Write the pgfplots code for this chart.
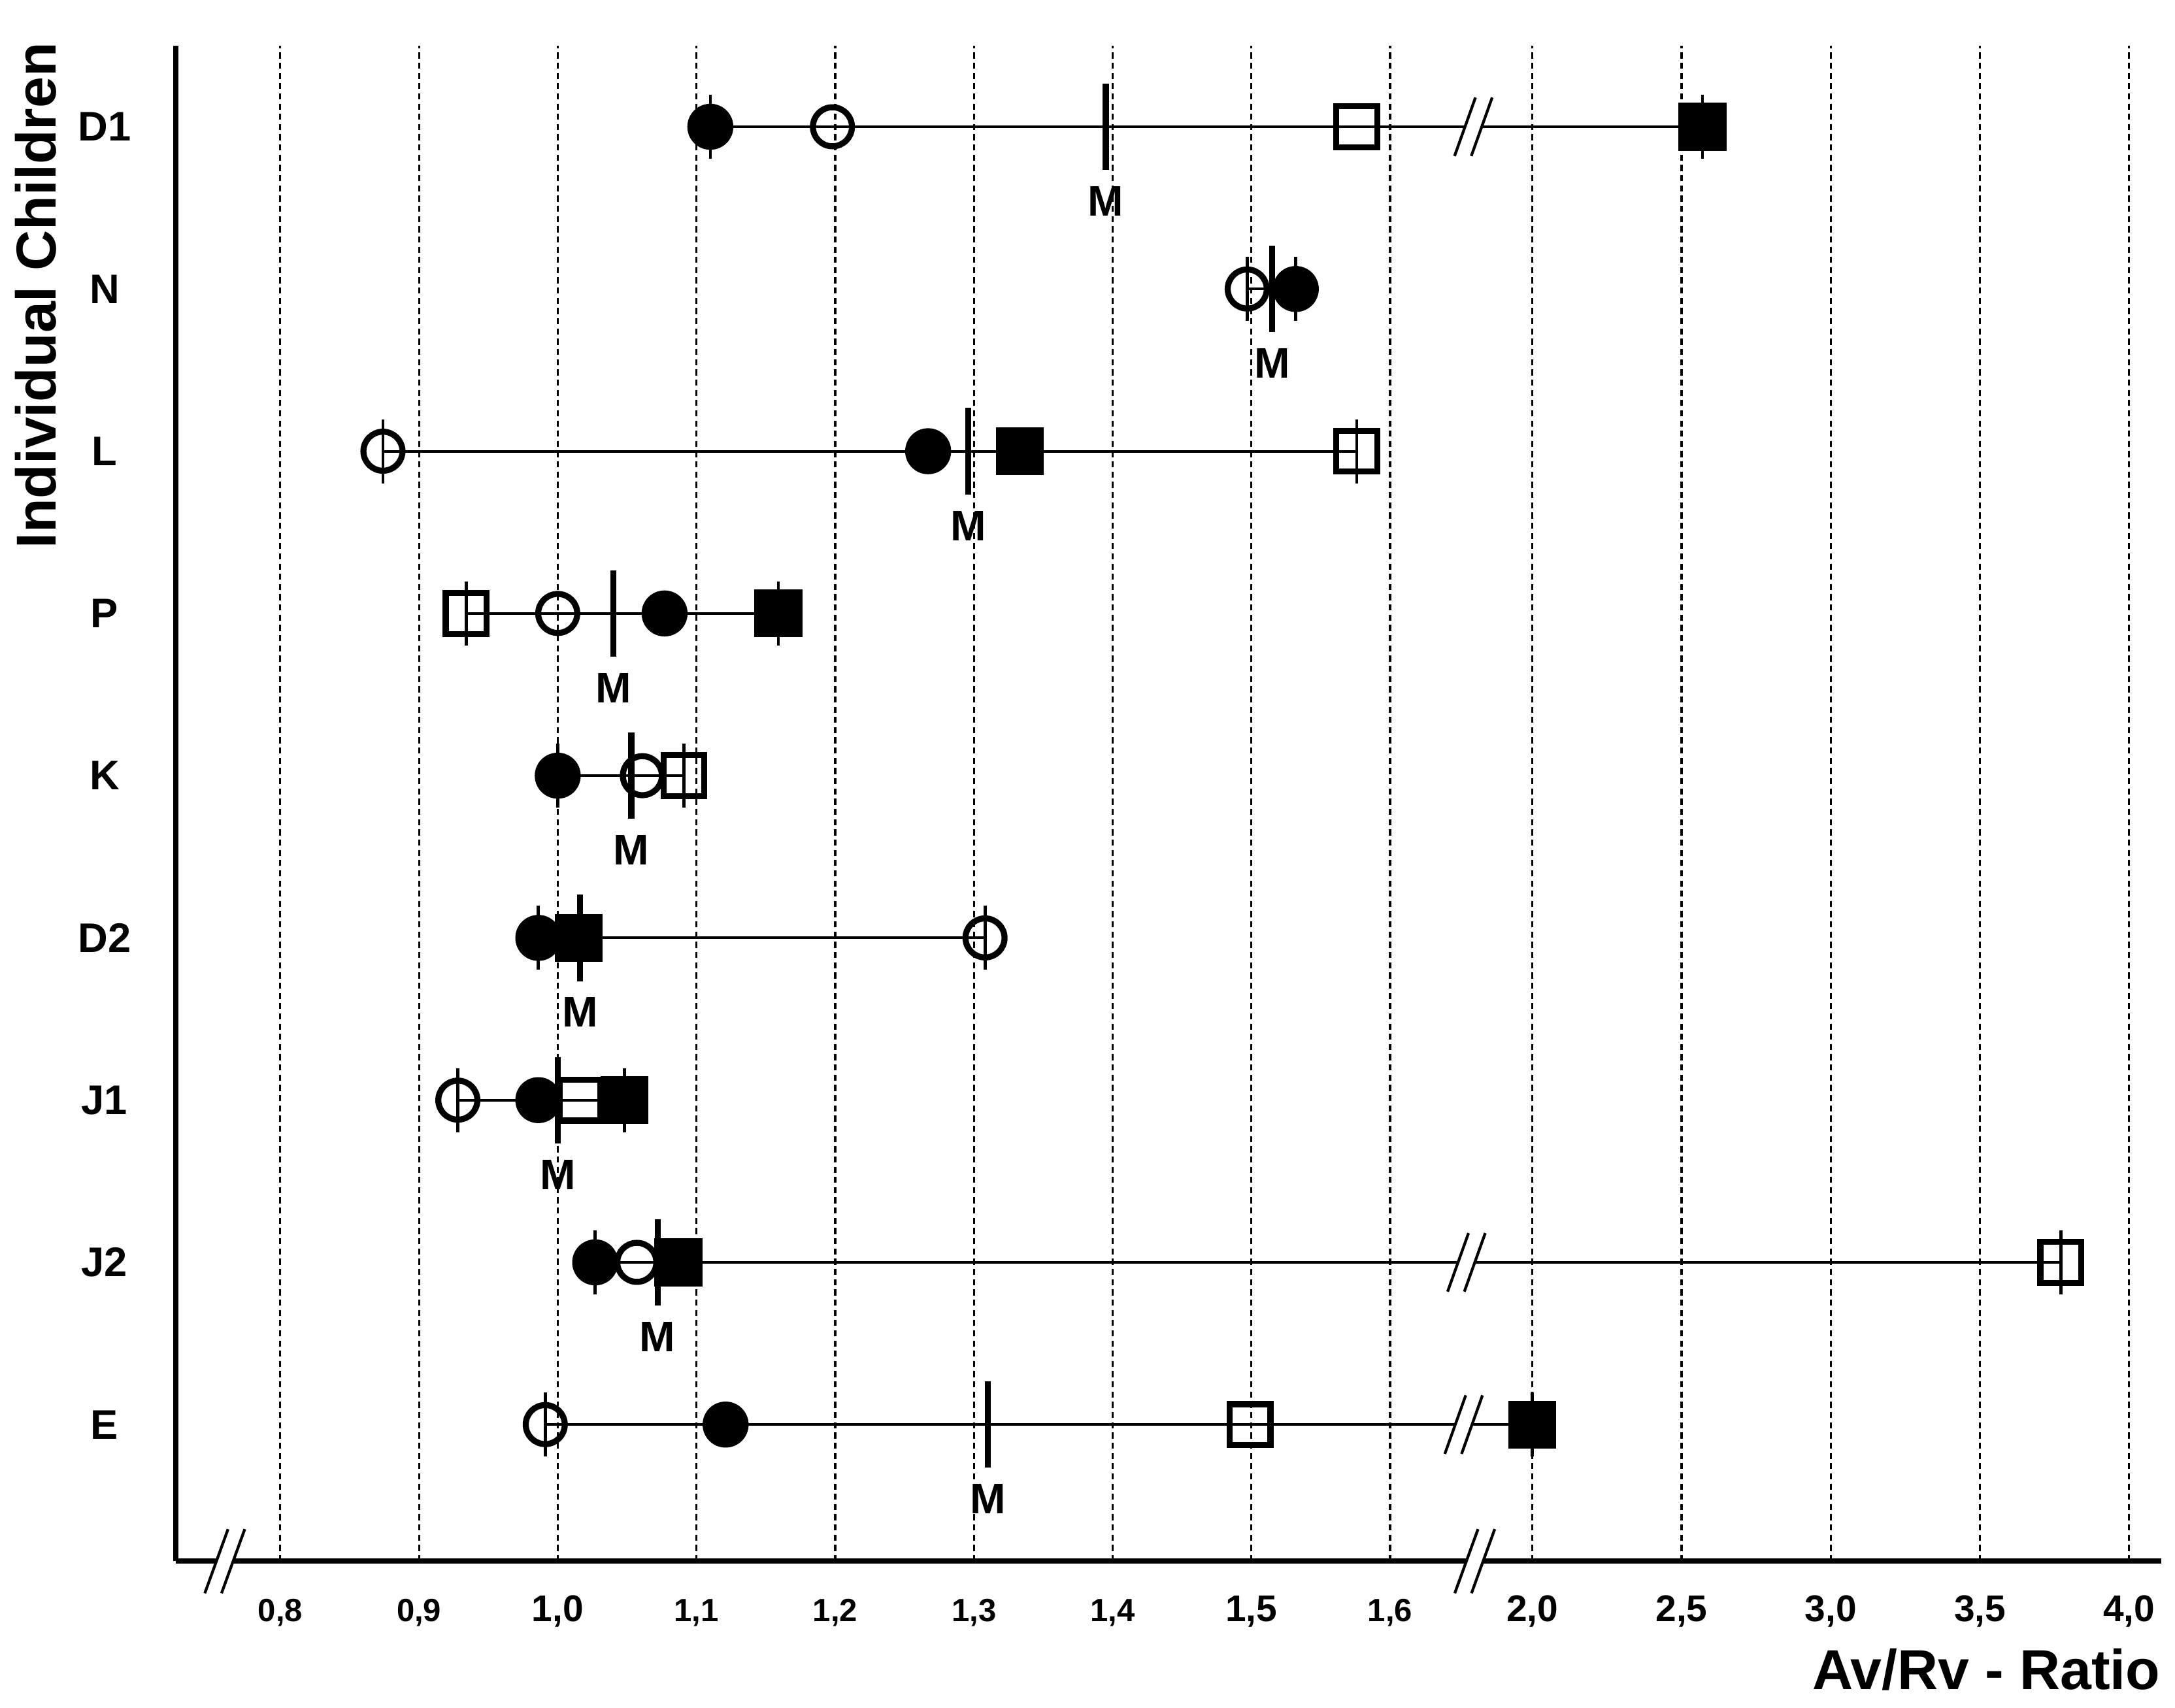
\documentclass[border=0pt]{standalone}
\usepackage{fontspec}
\setmainfont{Liberation Sans}
\usepackage{pgfplots}
\pgfplotsset{compat=1.18}

\newcommand\sm{\fontsize{6.9}{8}\selectfont}
\newcommand\bg{\fontsize{8}{9}\selectfont}

% break mark: #1 centre, #2 half height, #3 half slant, #4 half gap
\newcommand\brk[4]{%
  \begin{scope}[shift={(#1)}]
    \fill[white] (-#4-#3,-#2) -- (-#4+#3,#2) -- (#4+#3,#2) -- (#4-#3,-#2) -- cycle;
    \draw[line width=0.6pt] (-#4-#3,-#2) -- (-#4+#3,#2) (#4-#3,-#2) -- (#4+#3,#2);
  \end{scope}}

\pgfplotsset{
  row/.style={black, line width=0.55pt, no marks},
  fc/.style={only marks, mark=*, mark size=4.8pt, line width=0.3pt, mark options={fill=black, draw=black}},
  oc/.style={only marks, mark=o, mark size=4.2pt, line width=1.3pt, mark options={draw=black}},
  os/.style={only marks, mark=square, mark size=4.4pt, line width=1.3pt, mark options={draw=black}},
  fs/.style={only marks, mark=square*, mark size=5pt, line width=0.3pt, mark options={fill=black, draw=black}},
}

\begin{document}
\begin{tikzpicture}
\begin{axis}[
  name=ax,
  scale only axis,
  width=427.2pt, height=326.1pt,
  xmin=0.7246, xmax=4.107,
  ymin=0.158, ymax=9.498,
  x coord trafo/.code={\pgfmathparse{ifthenelse(#1<1.8,#1,1.7025+0.2151*(#1-2))}},
  axis x line*=bottom, axis y line*=left,
  axis line style={line width=1.15pt, -},
  xtick={0.8,0.9,1.0,1.1,1.2,1.3,1.4,1.5,1.6,2.0,2.5,3.0,3.5,4.0},
  xticklabels={{\sm 0,8},{\sm 0,9},{\bg 1,0},{\sm 1,1},{\sm 1,2},{\sm 1,3},{\sm 1,4},{\bg 1,5},{\sm 1,6},{\bg 2,0},{\bg 2,5},{\bg 3,0},{\bg 3,5},{\bg 4,0}},
  ytick={1,2,3,4,5,6,7,8,9},
  yticklabels={E,J2,J1,D2,K,P,L,N,D1},
  major tick length=0pt,
  xmajorgrids,
  grid style={line width=0.45pt, dash pattern=on 1.3pt off 0.9pt, black},
  xticklabel style={anchor=base, yshift=-12.9pt, inner sep=0pt, font=\bfseries},
  yticklabel style={anchor=center, xshift=-15.3pt, inner sep=0pt, font=\fontsize{8.9}{10}\selectfont\bfseries},
  clip=false,
]
% range of each child
\addplot[row] coordinates {(1.110,9) (2.57,9)};
\addplot[row] coordinates {(1.497,8) (1.532,8)};
\addplot[row] coordinates {(0.874,7) (1.576,7)};
\addplot[row] coordinates {(0.934,6) (1.159,6)};
\addplot[row] coordinates {(1.000,5) (1.091,5)};
\addplot[row] coordinates {(0.986,4) (1.308,4)};
\addplot[row] coordinates {(0.928,3) (1.048,3)};
\addplot[row] coordinates {(1.027,2) (3.771,2)};
\addplot[row] coordinates {(0.991,1) (2.0,1)};

% open circles
\addplot[oc] coordinates {(1.198,9) (1.497,8) (0.874,7) (1.000,6) (1.061,5) (1.308,4) (0.928,3) (1.057,2) (0.991,1)};
% open squares
\addplot[os] coordinates {(1.576,9) (1.576,7) (0.934,6) (1.091,5) (1.016,3) (3.771,2) (1.499,1)};
% filled circles
\addplot[fc] coordinates {(1.110,9) (1.532,8) (1.267,7) (1.077,6) (1.000,5) (0.986,4) (0.986,3) (1.027,2) (1.121,1)};
% filled squares
\addplot[fs] coordinates {(2.57,9) (1.333,7) (1.159,6) (1.015,4) (1.048,3) (1.087,2) (2.0,1)};

% end points of the ranges
\addplot[only marks, mark=|, mark size=6.9pt, line width=0.65pt] coordinates {
  (1.110,9) (2.57,9) (1.497,8) (1.532,8) (0.874,7) (1.576,7) (0.934,6) (1.159,6)
  (1.000,5) (1.091,5) (0.986,4) (1.308,4) (0.928,3) (1.048,3) (1.027,2) (3.771,2)
  (0.991,1) (2.0,1)};

% means
\addplot[only marks, mark=|, mark size=9.3pt, line width=1.3pt,
  nodes near coords={M},
  every node near coord/.append style={anchor=base, yshift=-19.2pt, inner sep=0pt,
    font=\fontsize{9.2}{10}\selectfont\bfseries}]
  coordinates {(1.395,9) (1.515,8) (1.296,7) (1.040,6) (1.053,5) (1.016,4) (1.000,3) (1.072,2) (1.310,1)};

\coordinate (bD1) at (axis cs:1.660,9);
\coordinate (bJ2) at (axis cs:1.655,2);
\coordinate (bE) at (axis cs:1.653,1);
\coordinate (bx1) at (axis cs:0.760,0.158);
\coordinate (bx2) at (axis cs:1.661,0.158);
\end{axis}

\brk{bD1}{6.3pt}{2.25pt}{1.8pt}
\brk{bJ2}{6.3pt}{2.25pt}{1.8pt}
\brk{bE}{6.3pt}{2.25pt}{1.8pt}
\brk{bx1}{6.9pt}{2.5pt}{1.8pt}
\brk{bx2}{6.9pt}{2.5pt}{1.8pt}

\node[rotate=90, anchor=north east, inner sep=0pt, font=\fontsize{12.1}{14}\selectfont\bfseries]
  at ([xshift=-34.8pt, yshift=0.9pt]ax.north west) {Individual Children};
\node[anchor=base east, inner sep=0pt, font=\fontsize{12.1}{14}\selectfont\bfseries]
  at ([yshift=-27.6pt]ax.south east) {Av/Rv - Ratio};

\pgfresetboundingbox
\path ([shift={(-37.8pt,-31.5pt)}]ax.south west) rectangle ([shift={(3pt,9.9pt)}]ax.north east);
\end{tikzpicture}
\end{document}
